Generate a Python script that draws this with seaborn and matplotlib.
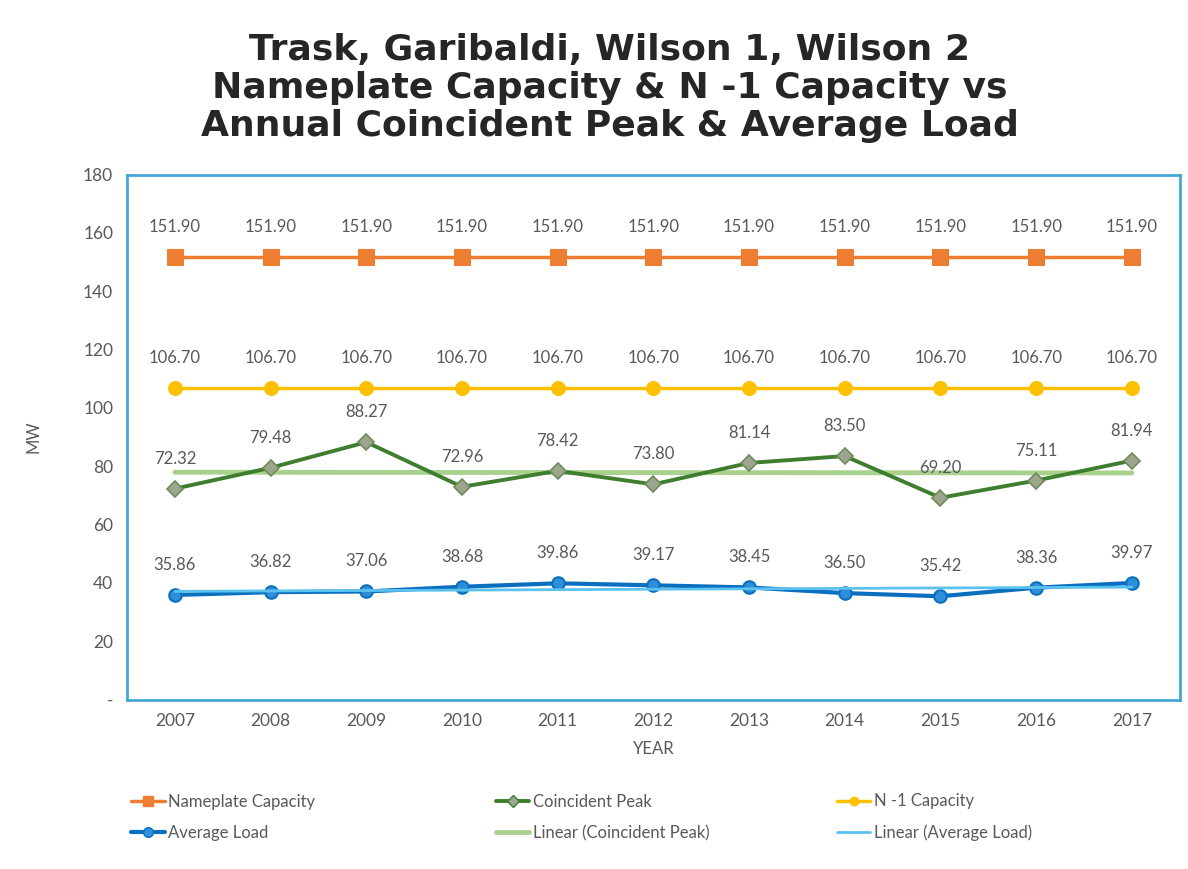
import numpy as np
import pandas as pd
import matplotlib
matplotlib.use("Agg")
import matplotlib.pyplot as plt
import seaborn as sns
from matplotlib.lines import Line2D

years = ["2007", "2008", "2009", "2010", "2011", "2012", "2013", "2014", "2015", "2016", "2017"]
nameplate = [151.90, 151.90, 151.90, 151.90, 151.90, 151.90, 151.90, 151.90, 151.90, 151.90, 151.90]
n_minus_1 = [106.70, 106.70, 106.70, 106.70, 106.70, 106.70, 106.70, 106.70, 106.70, 106.70, 106.70]
coincident_peak = [72.32, 79.48, 88.27, 72.96, 78.42, 73.80, 81.14, 83.50, 69.20, 75.11, 81.94]
average_load = [35.86, 36.82, 37.06, 38.68, 39.86, 39.17, 38.45, 36.50, 35.42, 38.36, 39.97]

sns.set_theme(style="white")
plt.rcParams['font.family'] = ['Lato', 'DejaVu Sans']

grey = "#595959"
c_name = "#ED7D31"
c_n1 = "#FFC000"
c_peak = "#3E7E2E"
c_avg = "#0B6FBF"
c_lin_peak = "#A9D18E"
c_lin_avg = "#5BC2EE"

x = np.arange(len(years))
df = pd.DataFrame({"x": x, "year": years, "name": nameplate, "n1": n_minus_1,
                   "peak": coincident_peak, "avg": average_load})

# excel-style linear trendlines
df["lin_peak"] = np.polyval(np.polyfit(df["x"], df["peak"], 1), df["x"])
df["lin_avg"] = np.polyval(np.polyfit(df["x"], df["avg"], 1), df["x"])

fig = plt.figure(figsize=(11.88, 8.69), dpi=100)
ax = fig.add_axes([0.107, 0.195, 0.886, 0.604])

sns.lineplot(data=df, x="x", y="name", ax=ax, color=c_name, lw=2.5, marker="s",
             markersize=11, markeredgecolor=c_name)
sns.lineplot(data=df, x="x", y="n1", ax=ax, color=c_n1, lw=2.5, marker="o",
             markersize=10, markeredgecolor=c_n1)
sns.lineplot(data=df, x="x", y="lin_peak", ax=ax, color=c_lin_peak, lw=3.5)
sns.lineplot(data=df, x="x", y="peak", ax=ax, color=c_peak, lw=2.8, marker="D",
             markersize=8, markerfacecolor="#9DA58C", markeredgecolor="#6F8A5E", markeredgewidth=1.2)
sns.lineplot(data=df, x="x", y="avg", ax=ax, color=c_avg, lw=3, marker="o",
             markersize=9, markerfacecolor="#2E8FD8", markeredgecolor=c_avg, markeredgewidth=1.5)
sns.lineplot(data=df, x="x", y="lin_avg", ax=ax, color=c_lin_avg, lw=2)

for col in ["name", "n1", "peak", "avg"]:
    for xi, v in zip(df["x"], df[col]):
        ax.annotate(f"{v:.2f}", (xi, v), xytext=(0, 22), textcoords="offset pixels",
                    ha="center", va="bottom", fontsize=12, color=grey)

ax.set_xlim(-0.5, len(years) - 0.5)
ax.set_ylim(0, 180)
ax.set_xticks(x)
ax.set_xticklabels(years)
ax.set_yticks(range(0, 181, 20))
ax.set_yticklabels(["-"] + [str(v) for v in range(20, 181, 20)])
ax.tick_params(axis="both", labelsize=12.5, colors=grey, length=0, pad=10)
ax.set_xlabel("YEAR", fontsize=12, color=grey, labelpad=8)
ax.set_ylabel("MW", fontsize=12, color=grey, labelpad=30)
for s in ax.spines.values():
    s.set_color("#45A7D4")
    s.set_linewidth(2)

fig.text(0.513, 0.899, "Trask, Garibaldi, Wilson 1, Wilson 2\nNameplate Capacity & N -1 Capacity vs\nAnnual Coincident Peak & Average Load",
         ha="center", va="center", fontsize=26, fontweight="bold", color="#262626",
         family="DejaVu Sans", linespacing=1.15)

handles = [
    Line2D([], [], color=c_name, lw=2.5, marker="s", markersize=7, label="Nameplate Capacity"),
    Line2D([], [], color=c_avg, lw=3, marker="o", markersize=7, markerfacecolor="#2E8FD8", label="Average Load"),
    Line2D([], [], color=c_peak, lw=2.8, marker="D", markersize=6, markerfacecolor="#9DA58C", label="Coincident Peak"),
    Line2D([], [], color=c_lin_peak, lw=3.5, label="Linear (Coincident Peak)"),
    Line2D([], [], color=c_n1, lw=2.5, marker="o", markersize=6, label="N -1 Capacity"),
    Line2D([], [], color=c_lin_avg, lw=2, label="Linear (Average Load)"),
]
# one small legend per column, placed like the original
for i, x0 in enumerate([0.098, 0.405, 0.692]):
    leg = fig.legend(handles=handles[2 * i:2 * i + 2], loc="lower left", bbox_to_anchor=(x0, 0.015),
                     frameon=False, fontsize=12, handlelength=2.0, handletextpad=0.2,
                     labelspacing=0.9)
    for t in leg.get_texts():
        t.set_color(grey)

fig.savefig("out.png", dpi=100)
